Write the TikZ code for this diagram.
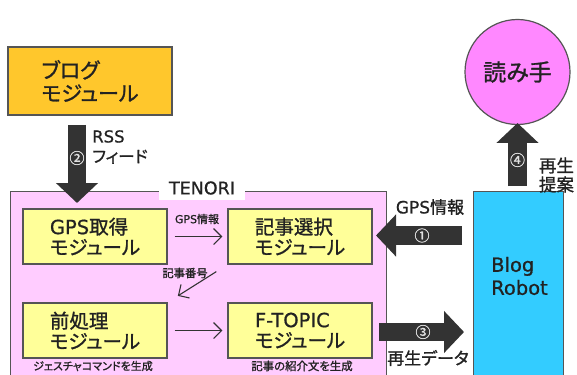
\documentclass[tikz,border=0pt]{standalone}
\usepackage{fontspec}
\setmainfont{Noto Sans CJK JP}[RawFeature=+palt, FakeBold=1.2]
\newfontfamily\lat{DejaVu Sans}[FakeBold=0.8]
\usetikzlibrary{arrows.meta}
\definecolor{blogorange}{HTML}{FFC72C}
\definecolor{framepink}{HTML}{FFCCFF}
\definecolor{modyellow}{HTML}{FFFF99}
\definecolor{robotcyan}{HTML}{33CCFF}
\definecolor{readerpink}{HTML}{FF88FF}
\definecolor{arrowdark}{HTML}{333333}
\definecolor{edgegray}{HTML}{555555}
\definecolor{txt}{HTML}{222222}
\tikzset{
  modbox/.style={draw=edgegray, line width=1.4pt, fill=modyellow, minimum width=144pt, minimum height=55pt, align=left, text=txt, font=\fontsize{19.5}{20.5}\selectfont, inner sep=0pt},
  blockarrow/.style={draw=arrowdark, line width=18.5pt, -{Triangle[width=41pt,length=20pt]}},
  thinarrow/.style={draw=arrowdark, line width=1.1pt, -{Straight Barb[length=8pt,width=16pt,line width=1.1pt]}},
  numlabel/.style={text=white!88!black, font=\fontsize{15}{15}\selectfont, inner sep=0pt},
  lbl/.style={text=txt, inner sep=0pt},
}
\begin{document}
\begin{tikzpicture}[x=1pt,y=-1pt]
\useasboundingbox (0,0) rectangle (577,374);
\clip (0,0) rectangle (577,374);
\fill[white] (0,0) rectangle (577,374);

% blog module
\node[draw=edgegray, line width=1.4pt, fill=blogorange, minimum width=164pt, minimum height=68pt, align=left, text=txt, font=\fontsize{21}{23}\selectfont] (blog) at (90,81) {ブログ\\モジュール};

% TENORI frame
\node[draw=edgegray, line width=1.4pt, fill=framepink, minimum width=376pt, minimum height=230pt, anchor=north west, inner sep=0pt] (tenori) at (10,191) {};
\node[fill=white, minimum width=86pt, minimum height=24pt, inner sep=0pt, text=txt, font=\lat\fontsize{17.5}{17.5}\selectfont] (title) at (202,188) {TENORI};

% modules
\node[modbox] (gps) at (95,236.5) {{\lat GPS}取得\\モジュール};
\node[modbox] (sel) at (300,236.5) {記事選択\\モジュール};
\node[modbox] (pre) at (95,330.5) {前処理\\モジュール};
\node[modbox] (ftp) at (300,330.5) {{\lat F-TOPIC}\\モジュール};

\draw[thinarrow, shorten <=7pt, shorten >=5pt] (gps) -- (sel);
\draw[thinarrow, shorten <=13pt, shorten >=12pt] (sel.south west) -- (pre.north east);
\draw[thinarrow, shorten <=7pt, shorten >=5pt] (pre) -- (ftp);
\node[lbl, font=\fontsize{11}{11}\selectfont] (lgps) at (197,219) {{\lat GPS}情報};
\node[lbl, font=\fontsize{11.3}{11}\selectfont] (lnum) at (185,273) {記事番号};
\node[lbl, font=\fontsize{11}{11}\selectfont] (lges) at (93,366) {ジェスチャコマンドを生成};
\node[lbl, font=\fontsize{11.4}{11}\selectfont] (lint) at (302,366) {記事の紹介文を生成};

% Blog Robot
\node[draw=edgegray, line width=1.4pt, fill=robotcyan, minimum width=90pt, minimum height=230pt, anchor=north west, inner sep=0pt] (robot) at (473,191) {};
\node[lbl, align=left, anchor=west, font=\lat\fontsize{19.5}{23}\selectfont] (robottext) at (491,276) {Blog\\Robot};

% reader
\node[draw=edgegray, line width=1.2pt, fill=readerpink, circle, minimum size=105pt, inner sep=0pt, text=txt, font=\fontsize{23}{23}\selectfont] (reader) at (517.5,72) {読み手};

% block arrows
\coordinate (a2s) at (77,125);
\coordinate (a2e) at (77,203);
\draw[blockarrow] (a2s) -- (a2e);
\node[numlabel] (n2) at (77,158) {②};
\node[lbl, align=left, anchor=west, font=\fontsize{16.5}{20}\selectfont] (rss) at (92,147) {{\lat RSS}\\フィード};

\coordinate (a1s) at (462,235.5);
\coordinate (a1e) at (376,235.5);
\draw[blockarrow] (a1s) -- (a1e);
\node[numlabel] (n1) at (422,235.5) {①};
\node[lbl, font=\fontsize{17}{17}\selectfont] (l1) at (430,207) {{\lat GPS}情報};

\coordinate (a3s) at (379,332);
\coordinate (a3e) at (464,332);
\draw[blockarrow] (a3s) -- (a3e);
\node[numlabel] (n3) at (423,332) {③};
\node[lbl, font=\fontsize{17}{17}\selectfont] (l3) at (428,358) {再生データ};

\coordinate (a4s) at (517.5,186);
\coordinate (a4e) at (517.5,123);
\draw[blockarrow] (a4s) -- (a4e);
\node[numlabel] (n4) at (517.5,160) {④};
\node[lbl, align=left, font=\fontsize{17.5}{19}\selectfont] (l4) at (556.5,175) {再生\\提案};
\end{tikzpicture}
\end{document}
